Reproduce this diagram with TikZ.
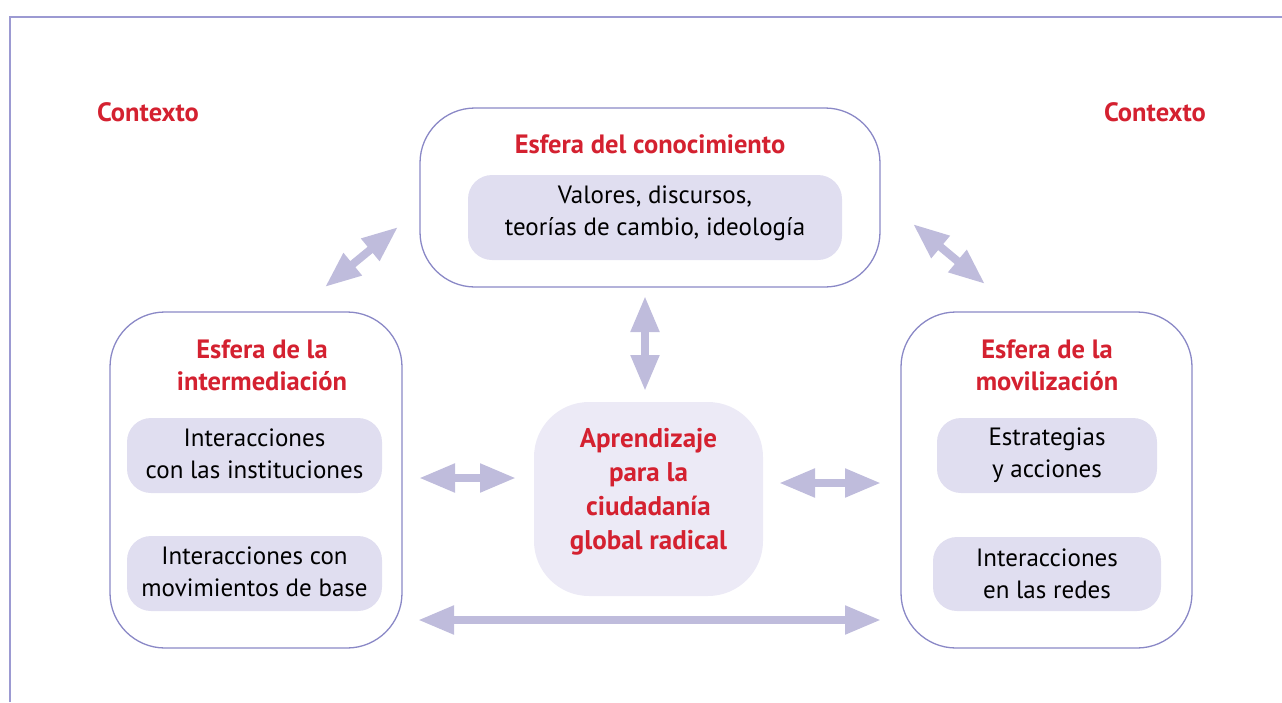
\documentclass[tikz,border=0pt]{standalone}
\usepackage{fontspec}
\setmainfont{PT Sans}
\usetikzlibrary{arrows.meta}
\definecolor{frame}{HTML}{9C9AD2}
\definecolor{boxline}{HTML}{8A88C6}
\definecolor{inner}{HTML}{E0DEF0}
\definecolor{center}{HTML}{ECEAF6}
\definecolor{arr}{HTML}{BFBCDC}
\definecolor{red}{HTML}{D42130}
\tikzset{
  sphere/.style={draw=boxline, line width=1.3pt, rounded corners=55pt},
  innerbox/.style={fill=inner, rounded corners=24pt},
  title/.style={text=red, font=\fontsize{26.5}{32}\selectfont\bfseries, align=center},
  body/.style={text=black, font=\fontsize{25}{32}\selectfont, align=center},
  dbl/.style={draw=arr, line width=8pt,
    {Triangle[length=36pt,width=27pt]}-{Triangle[length=36pt,width=27pt]}}
}
\begin{document}
\begin{tikzpicture}[x=1pt,y=-1pt]
\useasboundingbox (0,0) rectangle (1282,702);
% frame
\draw[frame, line width=1.3pt] (10,702) -- (10,17) -- (1282,17);
% context labels
\node[title] (ctxL) at (148,112) {Contexto};
\node[title] (ctxR) at (1155,112) {Contexto};
% top sphere
\node[sphere, minimum width=460pt, minimum height=179pt] (top) at (650,197.5) {};
\node[title] (topT) at (650,144) {Esfera del conocimiento};
\node[innerbox, minimum width=374pt, minimum height=85pt] (topI) at (655,217.5) {};
\node[body] at ([yshift=4pt]topI.center) {Valores, discursos,\\teorías de cambio, ideología};
% left sphere
\node[sphere, minimum width=292pt, minimum height=336pt] (left) at (256,480) {};
\node[title] (leftT) at (262,365) {Esfera de la\\intermediación};
\node[innerbox, minimum width=255pt, minimum height=75pt] (leftI1) at (254.5,455.5) {};
\node[body] at ([yshift=2pt]leftI1.center) {Interacciones\\con las instituciones};
\node[innerbox, minimum width=255pt, minimum height=75pt] (leftI2) at (254.5,573.5) {};
\node[body] at ([yshift=2pt]leftI2.center) {Interacciones con\\movimientos de base};
% right sphere
\node[sphere, minimum width=291pt, minimum height=336pt] (right) at (1046.5,480) {};
\node[title] (rightT) at (1047,365) {Esfera de la\\movilización};
\node[innerbox, minimum width=220pt, minimum height=75pt] (rightI1) at (1047,455.5) {};
\node[body] at ([yshift=0pt]rightI1.center) {Estrategias\\y acciones};
\node[innerbox, minimum width=228pt, minimum height=74pt] (rightI2) at (1047,574) {};
\node[body] at ([yshift=0pt]rightI2.center) {Interacciones\\en las redes};
% center
\node[fill=center, rounded corners=55pt, minimum width=229pt, minimum height=194pt] (mid) at (648.5,499) {};
\node[title, font=\fontsize{27}{34}\selectfont\bfseries] at (648.5,492) {Aprendizaje\\para la\\ciudadanía\\global radical};
% arrow ends
\coordinate (a1s) at (325,287); \coordinate (a1e) at (398,227);
\coordinate (a2s) at (913,224); \coordinate (a2e) at (985,284);
\coordinate (a3s) at (645,296); \coordinate (a3e) at (645,391);
\coordinate (a4s) at (419,478); \coordinate (a4e) at (516,478);
\coordinate (a5s) at (779,483); \coordinate (a5e) at (881,483);
\coordinate (a6s) at (418,620); \coordinate (a6e) at (881,620);
\draw[dbl] (a1s) -- (a1e);
\draw[dbl] (a2s) -- (a2e);
\draw[dbl] (a3s) -- (a3e);
\draw[dbl] (a4s) -- (a4e);
\draw[dbl] (a5s) -- (a5e);
\draw[dbl] (a6s) -- (a6e);
\end{tikzpicture}
\end{document}
